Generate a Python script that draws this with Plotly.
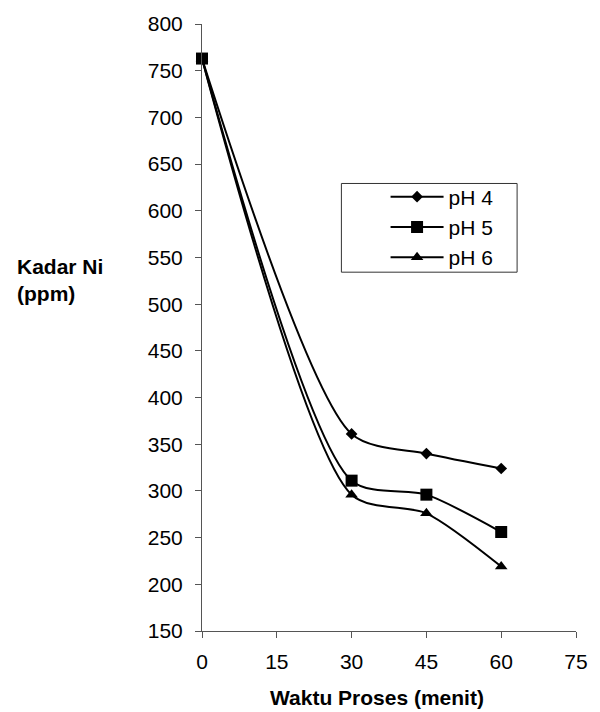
import plotly.graph_objects as go

# Waktu proses (menit)
waktu = [0, 30, 45, 60]

# Kadar Ni (ppm) per pH
ph4 = [763, 361, 340, 324]
ph5 = [763, 311, 296, 256]
ph6 = [763, 296, 276, 219]

series_names = ["pH 4", "pH 5", "pH 6"]
x_ticks = [0, 15, 30, 45, 60, 75]
y_ticks = [150, 200, 250, 300, 350, 400, 450, 500, 550, 600, 650, 700, 750, 800]

FONT = "Liberation Sans, Arial, sans-serif"

W, H = 600, 712
ML, MR, MT, MB = 202, 17, 22, 81
PW, PH = W - ML - MR, H - MT - MB


def px_to_paper_x(px):
    return (px - ML) / PW


def px_to_paper_y(py):
    return (H - MB - py) / PH


symbols = ["diamond", "square", "triangle-up"]
sizes = [9, 12, 11]

fig = go.Figure()
for name, vals, sym, sz in zip(series_names, [ph4, ph5, ph6], symbols, sizes):
    fig.add_trace(go.Scatter(
        x=waktu, y=vals, name=name, mode="lines+markers",
        line=dict(color="black", width=2, shape="spline", smoothing=0.75),
        marker=dict(symbol=sym, size=sz, color="black"),
        legendgroup=name,
        cliponaxis=False,
    ))

axis_common = dict(
    showline=True, linecolor="#555555", linewidth=1,
    ticks="outside", tickcolor="#555555", ticklen=6, tickwidth=1,
    showgrid=False, zeroline=False,
    tickfont=dict(family=FONT, size=21, color="black"),
)

fig.update_xaxes(range=[0, 75], tickvals=x_ticks, ticklabelstandoff=6, **axis_common)
fig.update_yaxes(range=[150, 800], tickvals=y_ticks, ticklabelstandoff=8, **axis_common)

fig.update_layout(
    width=W, height=H,
    margin=dict(l=ML, r=MR, t=MT, b=MB, pad=0),
    plot_bgcolor="white", paper_bgcolor="white",
    font=dict(family=FONT, size=21, color="black"),
    showlegend=True,
    legend=dict(
        x=px_to_paper_x(389), y=px_to_paper_y(175),
        xanchor="left", yanchor="top",
        bgcolor="rgba(0,0,0,0)", borderwidth=0,
        itemwidth=53, tracegroupgap=0,
        font=dict(family=FONT, size=21, color="black"),
    ),
    shapes=[dict(
        type="rect", xref="paper", yref="paper",
        x0=px_to_paper_x(344), x1=px_to_paper_x(523),
        y0=px_to_paper_y(271), y1=px_to_paper_y(182),
        line=dict(color="#333333", width=1), fillcolor="rgba(0,0,0,0)",
    )],
    annotations=[
        dict(text="<b>Kadar Ni<br>(ppm)</b>", xref="paper", yref="paper",
             x=px_to_paper_x(12), y=px_to_paper_y(252),
             xanchor="left", yanchor="top", align="left", showarrow=False,
             font=dict(family=FONT, size=21, color="black")),
        dict(text="<b>Waktu Proses (menit)</b>", xref="paper", yref="paper",
             x=px_to_paper_x(380), y=px_to_paper_y(684),
             xanchor="center", yanchor="top", showarrow=False,
             font=dict(family=FONT, size=21, color="black")),
    ],
)

fig.write_html("out.html")
